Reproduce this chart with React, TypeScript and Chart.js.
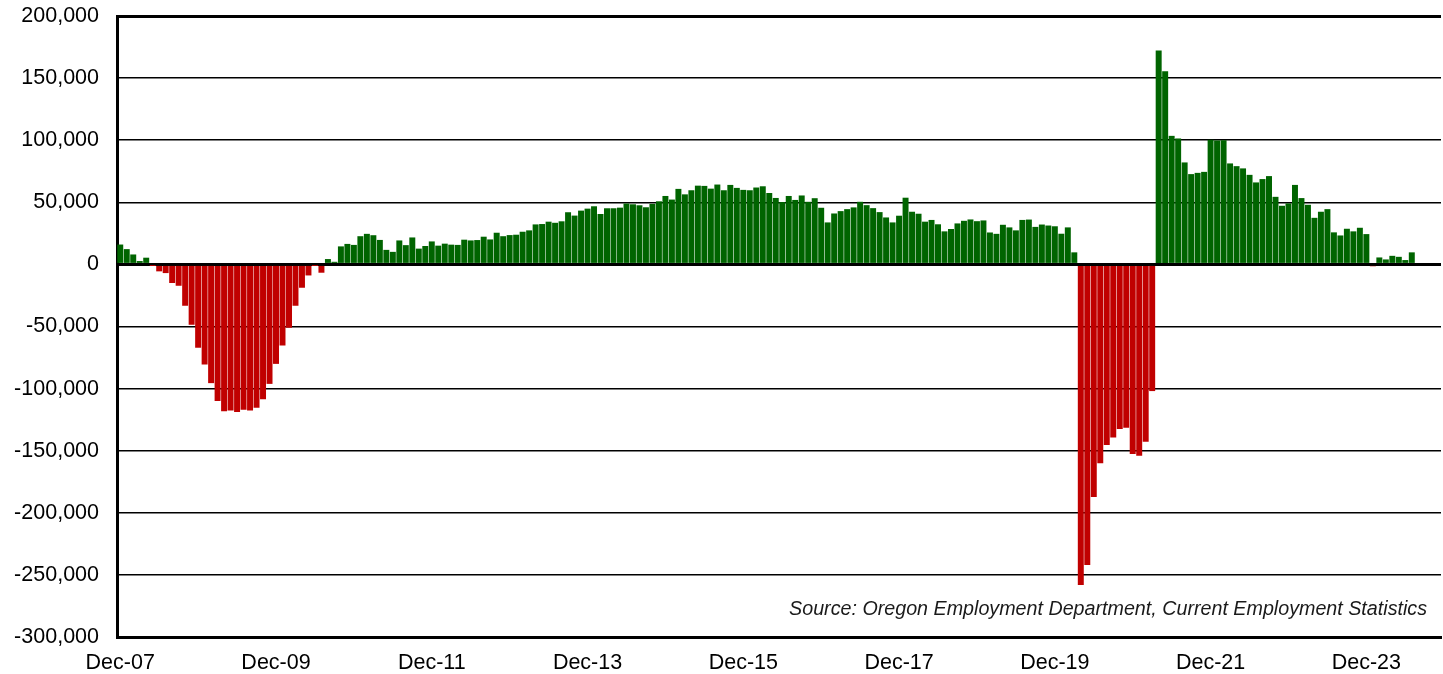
import React, { useEffect, useRef } from "react";
import { Chart, registerables } from "chart.js";

Chart.register(...registerables);

const MONTH_NAMES = ["Jan", "Feb", "Mar", "Apr", "May", "Jun", "Jul", "Aug", "Sep", "Oct", "Nov", "Dec"];

// 204 monthly categories: Dec-07 .. Nov-24
const categories: string[] = Array.from({ length: 204 }, (_, i) => {
  const m = (11 + i) % 12;
  const y = 2007 + Math.floor((11 + i) / 12);
  return `${MONTH_NAMES[m]}-${String(y % 100).padStart(2, "0")}`;
});

const tickLabels = ["Dec-07", "Dec-09", "Dec-11", "Dec-13", "Dec-15", "Dec-17", "Dec-19", "Dec-21", "Dec-23"];

// Over-the-year change in Oregon nonfarm employment (Dec-07 .. Jul-24)
const values2007to2010 = [
  16000, 12300, 8000, 2700, 5400, -500, -5600, -7000, -15000, -17200, -33300, -48600,
  -67100, -80600, -95600, -110000, -118200, -117700, -118800, -117100, -117700, -115500, -108600, -96200,
  -80100, -65300, -51000, -33300, -18800, -8900, -500, -6700, 4300, 2100, 14500, 16500,
];
const values2011to2013 = [
  15700, 22700, 24600, 23500, 19700, 11700, 10100, 19300, 15500, 21700, 12700, 14800,
  18500, 15100, 16700, 15900, 15700, 19900, 19300, 19600, 22300, 20100, 25500, 22700,
  23600, 23900, 26300, 27400, 32200, 32500, 34400, 33500, 34700, 42000, 39300, 43300,
];
const values2014to2016 = [
  44900, 46800, 40600, 45200, 45200, 45700, 49000, 48400, 47600, 46000, 48700, 50800,
  55100, 52200, 60800, 56400, 59700, 63400, 63200, 61000, 64300, 59700, 64000, 61600,
  60000, 59700, 61900, 62900, 57500, 53500, 50200, 55100, 51900, 55500, 50400, 53300,
];
const values2017to2019 = [
  45600, 33800, 41000, 42900, 44500, 45900, 50400, 47700, 45300, 42100, 37800, 33800,
  39200, 53700, 42400, 40800, 34400, 35800, 32300, 26600, 28500, 33000, 35100, 36200,
  34800, 35400, 25700, 24600, 31900, 29800, 27400, 35800, 36100, 30200, 32100, 31300,
];
const values2020to2022 = [
  30700, 24700, 29800, 9700, -258200, -242100, -187300, -160200, -145500, -139300, -132600, -131500,
  -152700, -154100, -142800, -102000, 172300, 155600, 103500, 101400, 82100, 72700, 73700, 74500,
  100300, 99800, 100000, 81300, 79100, 77300, 72100, 66000, 68700, 71100, 54400, 47200,
];
const values2023to2024 = [
  49100, 64000, 53400, 48000, 37500, 42400, 44500, 25800, 23300, 28700, 26600, 29500,
  24400, -1500, 5600, 4000, 6900, 6100, 3500, 9700,
];

const values: number[] = [
  ...values2007to2010,
  ...values2011to2013,
  ...values2014to2016,
  ...values2017to2019,
  ...values2020to2022,
  ...values2023to2024,
];

const sourceText = "Source: Oregon Employment Department, Current Employment Statistics";

const GREEN = "#006400";
const RED = "#C00000";
const FONT = "'Liberation Sans', Arial, sans-serif";

export default function App() {
  const canvasRef = useRef<HTMLCanvasElement | null>(null);

  useEffect(() => {
    const canvas = canvasRef.current;
    if (!canvas) return;

    const sourcePlugin = {
      id: "sourceNote",
      afterDraw(chart: any) {
        const { ctx } = chart;
        ctx.save();
        ctx.font = `italic 19.7px ${FONT}`;
        ctx.fillStyle = "#1a1a1a";
        ctx.textAlign = "right";
        ctx.textBaseline = "alphabetic";
        ctx.fillText(sourceText, 1427, 615);
        ctx.restore();
      },
    };

    const chart = new Chart(canvas, {
      type: "bar",
      data: {
        labels: categories,
        datasets: [
          {
            data: values,
            backgroundColor: (c: any) => ((c.raw ?? 0) >= 0 ? GREEN : RED),
            borderWidth: 0,
            barPercentage: 0.92,
            categoryPercentage: 1,
          },
        ],
      },
      options: {
        responsive: false,
        animation: false,
        layout: { padding: { top: 16, right: 2, left: 0, bottom: 0 } },
        plugins: {
          legend: { display: false },
          tooltip: { enabled: false },
        },
        scales: {
          x: {
            type: "category",
            offset: true,
            grid: { display: false, drawTicks: false },
            border: { display: true, color: "#000", width: 3 },
            ticks: {
              autoSkip: false,
              maxRotation: 0,
              minRotation: 0,
              padding: 13,
              color: "#000",
              font: { family: FONT, size: 21.5 },
              callback: (_v: any, index: number) =>
                tickLabels.includes(categories[index]) ? categories[index] : "",
            },
            afterFit: (scale: any) => {
              scale.height = 37;
              scale.paddingLeft = 0;
              scale.paddingRight = 0;
              scale.paddingTop = 0;
              scale.paddingBottom = 0;
            },
          },
          y: {
            min: -300000,
            max: 200000,
            z: 1,
            grid: {
              drawTicks: false,
              color: "#000",
              lineWidth: (c: any) =>
                c.tick && (c.tick.value === 0 || c.tick.value === 200000) ? 3 : 1.5,
            },
            border: { display: true, color: "#000", width: 3 },
            ticks: {
              stepSize: 50000,
              padding: 18,
              color: "#000",
              font: { family: FONT, size: 21.5 },
              callback: (v: any) => Number(v).toLocaleString("en-US"),
            },
            afterFit: (scale: any) => {
              scale.width = 117;
              scale.paddingLeft = 0;
              scale.paddingRight = 0;
              scale.paddingTop = 0;
              scale.paddingBottom = 0;
            },
          },
        },
      },
      plugins: [sourcePlugin],
    });

    return () => chart.destroy();
  }, []);

  return (
    <div style={{ position: "fixed", left: 0, top: 0, width: 1443, height: 674, background: "#fff" }}>
      <canvas ref={canvasRef} width={1443} height={674} style={{ display: "block" }} />
    </div>
  );
}
